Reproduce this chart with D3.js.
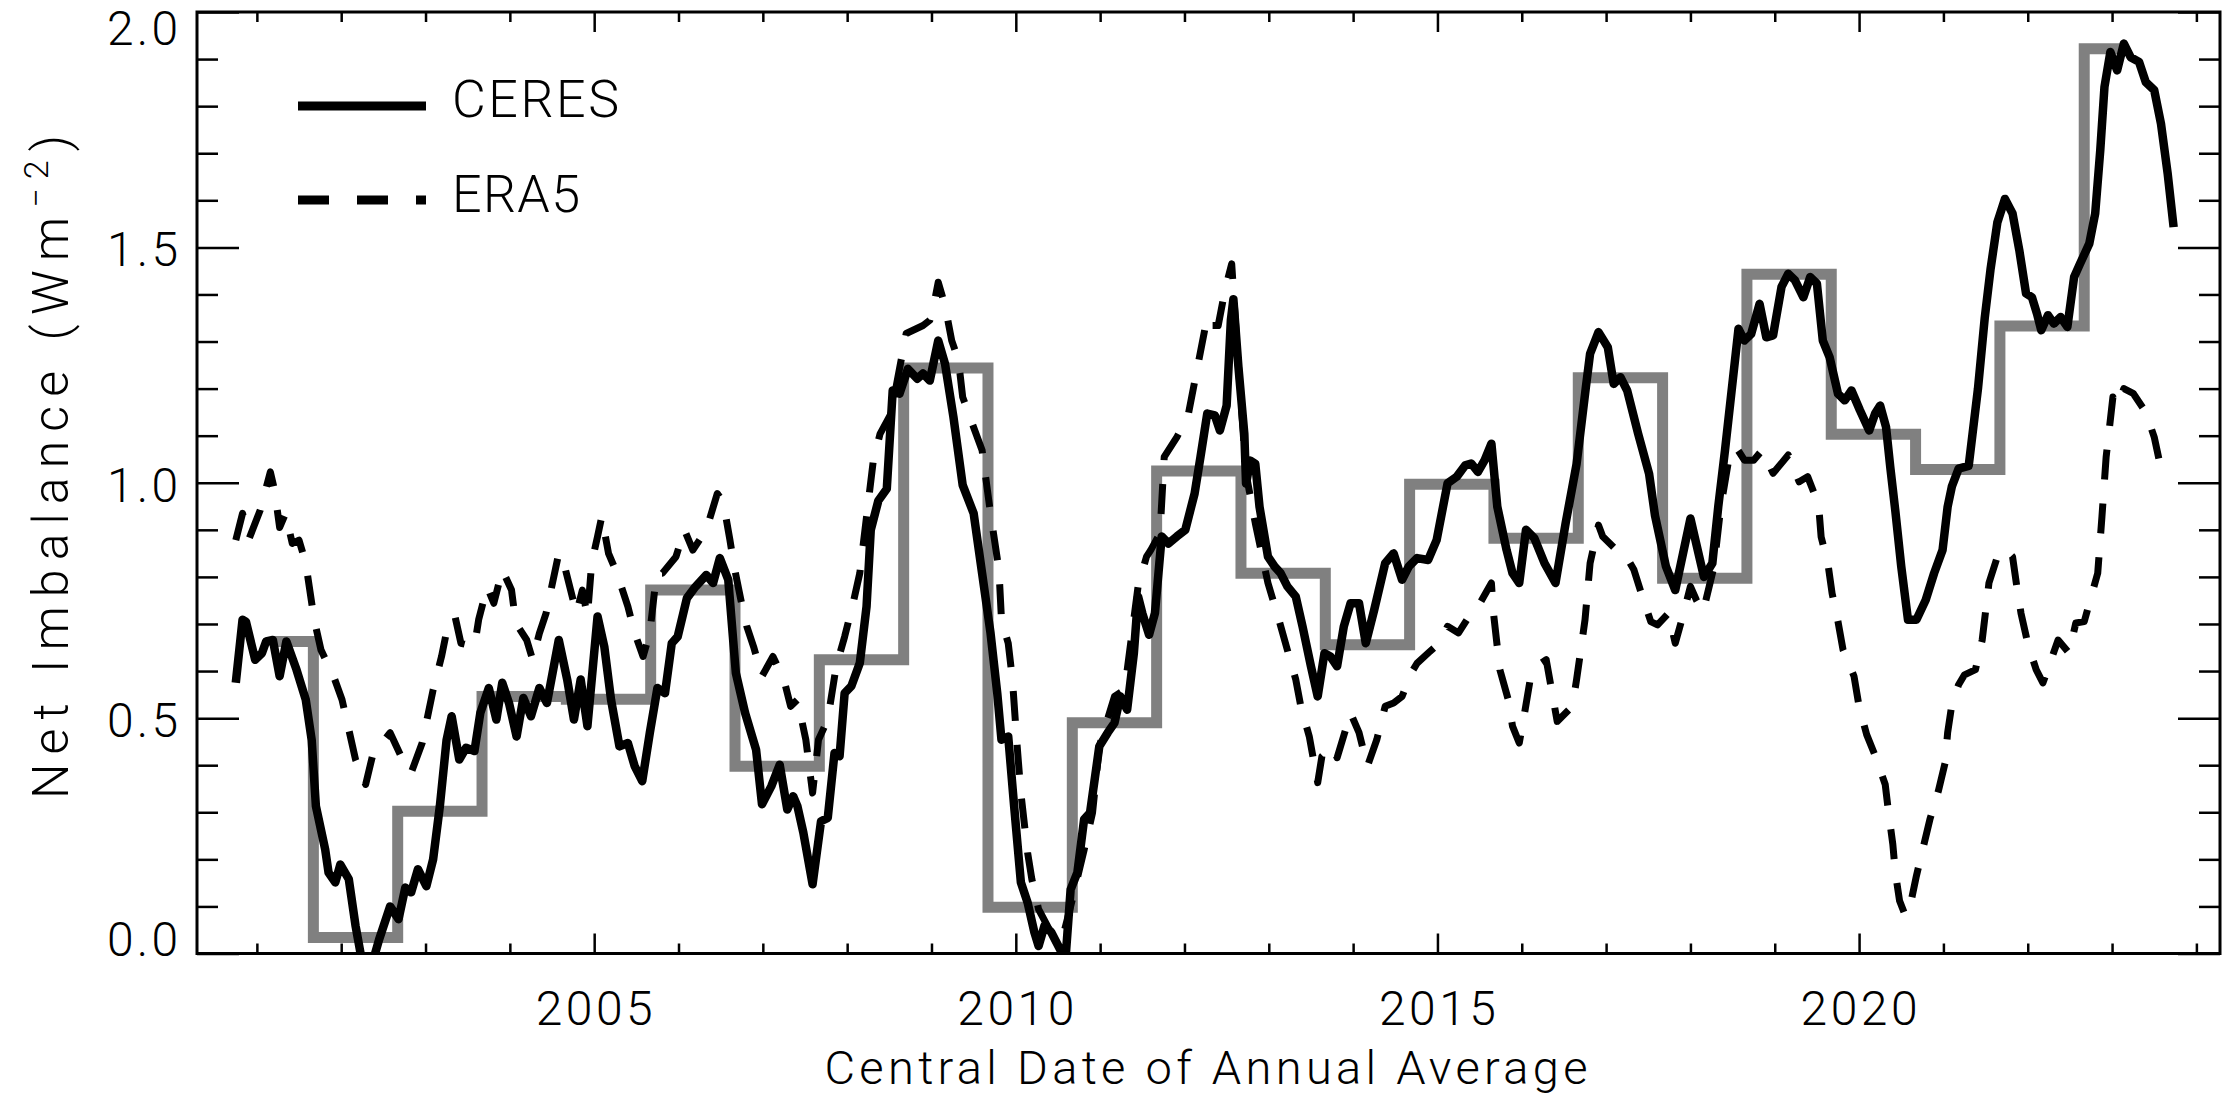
<!DOCTYPE html>
<html><head><meta charset="utf-8">
<script src="https://cdn.jsdelivr.net/npm/d3@7"></script>
<style>html,body{margin:0;padding:0;background:#fff;} svg{display:block;}</style>
</head><body>
<svg id="chart" width="2229" height="1103"></svg>
<script>
// ---------------- DATA ----------------
const ceres = [
[2000.75,0.575],[2000.83,0.709],[2000.87,0.705],[2000.98,0.624],[2001.06,0.638],[2001.11,0.663],[2001.19,0.666],
[2001.27,0.589],[2001.35,0.663],[2001.47,0.603],[2001.58,0.539],[2001.65,0.454],[2001.70,0.313],[2001.81,0.221],
[2001.85,0.172],[2001.93,0.151],[2001.99,0.189],[2002.09,0.158],[2002.17,0.059],[2002.24,-0.01],[2002.37,-0.02],
[2002.45,0.03],[2002.58,0.10],[2002.68,0.073],[2002.76,0.14],[2002.83,0.13],[2002.91,0.179],[2003.01,0.143],
[2003.09,0.20],[2003.17,0.313],[2003.25,0.454],[2003.31,0.504],[2003.40,0.412],[2003.48,0.437],[2003.58,0.43],
[2003.65,0.511],[2003.75,0.564],[2003.84,0.497],[2003.91,0.575],[2003.99,0.532],[2004.08,0.461],[2004.16,0.543],
[2004.25,0.504],[2004.35,0.564],[2004.44,0.532],[2004.58,0.666],[2004.68,0.582],[2004.76,0.497],[2004.84,0.582],
[2004.92,0.483],[2005.04,0.716],[2005.12,0.652],[2005.20,0.539],[2005.30,0.44],[2005.40,0.447],[2005.48,0.398],
[2005.57,0.366],[2005.66,0.469],[2005.75,0.564],[2005.84,0.553],[2005.92,0.659],[2005.99,0.673],[2006.10,0.755],
[2006.20,0.779],[2006.33,0.804],[2006.41,0.787],[2006.49,0.84],[2006.59,0.794],[2006.68,0.596],[2006.79,0.511],
[2006.92,0.433],[2006.99,0.317],[2007.10,0.355],[2007.20,0.401],[2007.29,0.306],[2007.36,0.334],[2007.41,0.313],
[2007.48,0.257],[2007.59,0.147],[2007.69,0.281],[2007.77,0.288],[2007.85,0.426],[2007.91,0.419],[2007.97,0.553],
[2008.05,0.568],[2008.15,0.617],[2008.23,0.737],[2008.28,0.90],[2008.37,0.962],[2008.47,0.987],[2008.54,1.196],
[2008.62,1.189],[2008.72,1.242],[2008.83,1.221],[2008.90,1.232],[2008.98,1.217],[2009.08,1.302],[2009.16,1.253],
[2009.26,1.14],[2009.37,0.995],[2009.50,0.935],[2009.60,0.808],[2009.70,0.681],[2009.78,0.553],[2009.83,0.454],
[2009.91,0.461],[2009.98,0.313],[2010.06,0.151],[2010.14,0.108],[2010.22,0.045],[2010.27,0.016],[2010.34,0.059],
[2010.42,0.045],[2010.55,0.0],[2010.59,-0.01],[2010.65,0.136],[2010.73,0.172],[2010.81,0.285],[2010.88,0.299],
[2010.99,0.44],[2011.09,0.469],[2011.17,0.49],[2011.24,0.546],[2011.32,0.518],[2011.40,0.638],[2011.45,0.758],
[2011.50,0.723],[2011.58,0.677],[2011.65,0.723],[2011.73,0.886],[2011.81,0.871],[2011.91,0.886],[2012.01,0.90],
[2012.12,0.977],[2012.19,1.055],[2012.27,1.147],[2012.36,1.143],[2012.42,1.111],[2012.50,1.164],[2012.55,1.345],
[2012.58,1.39],[2012.64,1.246],[2012.71,1.104],[2012.73,0.998],[2012.78,1.047],[2012.84,1.04],[2012.89,0.949],
[2012.99,0.843],[2013.07,0.822],[2013.14,0.808],[2013.22,0.78],[2013.32,0.758],[2013.40,0.695],[2013.50,0.61],
[2013.58,0.546],[2013.66,0.638],[2013.73,0.631],[2013.81,0.61],[2013.89,0.695],[2013.97,0.744],[2014.07,0.744],
[2014.15,0.659],[2014.25,0.73],[2014.38,0.829],[2014.48,0.85],[2014.58,0.794],[2014.66,0.822],[2014.76,0.84],
[2014.89,0.836],[2014.99,0.878],[2015.12,0.999],[2015.23,1.013],[2015.33,1.037],[2015.40,1.041],[2015.48,1.023],
[2015.56,1.048],[2015.64,1.083],[2015.71,0.949],[2015.82,0.857],[2015.89,0.808],[2015.97,0.787],[2016.05,0.90],
[2016.15,0.882],[2016.27,0.829],[2016.40,0.787],[2016.52,0.914],[2016.65,1.04],[2016.76,1.203],[2016.81,1.274],
[2016.91,1.32],[2017.02,1.288],[2017.09,1.21],[2017.17,1.224],[2017.25,1.196],[2017.38,1.104],[2017.51,1.019],
[2017.58,0.93],[2017.71,0.822],[2017.82,0.772],[2018.00,0.924],[2018.16,0.80],[2018.26,0.829],[2018.33,0.949],
[2018.41,1.069],[2018.57,1.327],[2018.64,1.302],[2018.72,1.316],[2018.82,1.38],[2018.90,1.309],[2018.98,1.313],
[2019.08,1.416],[2019.16,1.444],[2019.24,1.43],[2019.34,1.394],[2019.42,1.437],[2019.50,1.423],[2019.57,1.302],
[2019.65,1.267],[2019.75,1.189],[2019.83,1.175],[2019.91,1.196],[2020.01,1.154],[2020.12,1.111],[2020.19,1.147],
[2020.25,1.164],[2020.32,1.118],[2020.37,1.033],[2020.43,0.94],[2020.50,0.822],[2020.58,0.709],[2020.68,0.709],
[2020.79,0.751],[2020.89,0.808],[2020.99,0.857],[2021.05,0.949],[2021.10,0.992],[2021.18,1.03],[2021.30,1.036],
[2021.41,1.20],[2021.49,1.35],[2021.56,1.455],[2021.64,1.553],[2021.73,1.603],[2021.82,1.572],[2021.90,1.494],
[2021.98,1.402],[2022.05,1.394],[2022.11,1.359],[2022.16,1.324],[2022.24,1.356],[2022.31,1.338],[2022.39,1.352],
[2022.47,1.331],[2022.55,1.437],[2022.62,1.465],[2022.73,1.508],[2022.80,1.572],[2022.86,1.706],[2022.91,1.841],
[2022.98,1.915],[2023.06,1.876],[2023.14,1.933],[2023.22,1.904],[2023.32,1.894],[2023.40,1.851],[2023.50,1.834],
[2023.58,1.763],[2023.66,1.656],[2023.73,1.543]
];

const era5 = [
[2000.75,0.878],[2000.83,0.935],[2000.91,0.882],[2001.04,0.942],[2001.16,1.023],[2001.21,0.984],[2001.27,0.905],
[2001.34,0.935],[2001.42,0.871],[2001.50,0.878],[2001.58,0.829],[2001.68,0.709],[2001.76,0.645],[2001.91,0.589],
[2002.01,0.539],[2002.09,0.476],[2002.17,0.412],[2002.29,0.359],[2002.37,0.419],[2002.45,0.44],[2002.58,0.469],
[2002.71,0.419],[2002.83,0.384],[2002.96,0.447],[2003.09,0.56],[2003.19,0.631],[2003.25,0.684],[2003.35,0.716],
[2003.42,0.659],[2003.58,0.652],[2003.63,0.709],[2003.73,0.779],[2003.81,0.744],[2003.91,0.815],[2004.02,0.772],
[2004.07,0.702],[2004.20,0.666],[2004.27,0.624],[2004.35,0.68],[2004.43,0.723],[2004.58,0.85],[2004.66,0.815],
[2004.74,0.758],[2004.79,0.723],[2004.86,0.772],[2004.92,0.716],[2004.97,0.829],[2005.04,0.886],[2005.09,0.928],
[2005.17,0.85],[2005.27,0.808],[2005.40,0.737],[2005.48,0.681],[2005.58,0.631],[2005.66,0.681],[2005.74,0.808],
[2005.81,0.808],[2005.97,0.843],[2006.07,0.9],[2006.17,0.857],[2006.33,0.9],[2006.46,0.977],[2006.53,0.96],
[2006.61,0.878],[2006.66,0.822],[2006.74,0.751],[2006.81,0.695],[2006.89,0.652],[2006.99,0.589],[2007.12,0.631],
[2007.25,0.582],[2007.33,0.525],[2007.41,0.539],[2007.51,0.454],[2007.59,0.341],[2007.66,0.454],[2007.77,0.497],
[2007.87,0.61],[2007.97,0.673],[2008.07,0.744],[2008.15,0.808],[2008.23,0.928],[2008.31,1.047],[2008.39,1.104],
[2008.52,1.147],[2008.70,1.317],[2008.90,1.334],[2008.98,1.345],[2009.03,1.38],[2009.08,1.426],[2009.16,1.377],
[2009.24,1.302],[2009.32,1.26],[2009.37,1.182],[2009.47,1.132],[2009.60,1.069],[2009.70,0.935],[2009.80,0.815],
[2009.83,0.709],[2009.91,0.659],[2009.96,0.582],[2010.01,0.454],[2010.06,0.341],[2010.14,0.214],[2010.19,0.158],
[2010.27,0.094],[2010.40,0.05],[2010.55,0.03],[2010.65,0.10],[2010.73,0.16],[2010.81,0.22],[2010.91,0.299],
[2010.99,0.44],[2011.17,0.546],[2011.29,0.56],[2011.45,0.78],[2011.55,0.843],[2011.60,0.857],[2011.71,0.893],
[2011.76,1.055],[2011.91,1.097],[2012.04,1.14],[2012.17,1.26],[2012.27,1.352],[2012.32,1.334],[2012.40,1.334],
[2012.48,1.409],[2012.56,1.465],[2012.62,1.30],[2012.73,1.02],[2012.84,0.914],[2012.99,0.787],[2013.12,0.709],
[2013.22,0.645],[2013.32,0.582],[2013.38,0.525],[2013.48,0.461],[2013.58,0.363],[2013.63,0.419],[2013.76,0.44],
[2013.81,0.416],[2013.97,0.511],[2014.07,0.469],[2014.17,0.398],[2014.28,0.454],[2014.38,0.525],[2014.48,0.532],
[2014.58,0.546],[2014.69,0.596],[2014.76,0.617],[2014.90,0.64],[2015.02,0.659],[2015.12,0.695],[2015.25,0.681],
[2015.35,0.709],[2015.46,0.73],[2015.64,0.787],[2015.66,0.73],[2015.74,0.603],[2015.84,0.539],[2015.89,0.483],
[2015.97,0.447],[2016.02,0.497],[2016.10,0.582],[2016.17,0.61],[2016.29,0.624],[2016.42,0.493],[2016.60,0.525],
[2016.65,0.582],[2016.70,0.645],[2016.75,0.709],[2016.81,0.829],[2016.91,0.91],[2016.96,0.886],[2017.14,0.854],
[2017.22,0.85],[2017.33,0.815],[2017.43,0.758],[2017.53,0.705],[2017.61,0.698],[2017.74,0.723],[2017.82,0.659],
[2017.92,0.723],[2018.00,0.78],[2018.07,0.751],[2018.15,0.726],[2018.28,0.822],[2018.36,0.949],[2018.46,1.055],
[2018.54,1.076],[2018.64,1.048],[2018.75,1.048],[2018.85,1.069],[2018.98,1.02],[2019.16,1.059],[2019.29,1.002],
[2019.39,1.013],[2019.52,0.953],[2019.55,0.885],[2019.63,0.829],[2019.68,0.765],[2019.75,0.705],[2019.81,0.645],
[2019.94,0.589],[2020.00,0.525],[2020.09,0.465],[2020.20,0.416],[2020.31,0.359],[2020.35,0.299],[2020.40,0.232],
[2020.43,0.172],[2020.48,0.112],[2020.55,0.08],[2020.61,0.105],[2020.68,0.165],[2020.76,0.225],[2020.84,0.285],
[2020.94,0.345],[2021.02,0.405],[2021.05,0.469],[2021.10,0.529],[2021.18,0.571],[2021.25,0.592],[2021.38,0.603],
[2021.46,0.666],[2021.54,0.787],[2021.64,0.843],[2021.73,0.86],[2021.82,0.843],[2021.87,0.78],[2021.92,0.723],
[2022.00,0.659],[2022.10,0.603],[2022.18,0.575],[2022.36,0.666],[2022.44,0.649],[2022.49,0.638],[2022.57,0.702],
[2022.67,0.705],[2022.73,0.744],[2022.83,0.808],[2022.88,0.928],[2022.93,1.055],[2023.01,1.182],[2023.06,1.164],
[2023.14,1.2],[2023.25,1.19],[2023.40,1.15],[2023.50,1.097],[2023.58,1.03]
];

const annualYears = [2001.17,2002.17,2003.17,2004.17,2005.17,2006.17,2007.17,2008.17,2009.17,2010.17,2011.17,2012.17,
  2013.17,2014.17,2015.17,2016.17,2017.17,2018.17,2019.17,2020.17,2021.17,2022.17,2023.17];
const annualValues = [0.663,0.034,0.302,0.546,0.54,0.772,0.398,0.624,1.244,0.098,0.49,1.025,
  0.808,0.656,0.997,0.882,1.223,0.797,1.443,1.103,1.028,1.333,1.922];

const xMajorTicks = [2005,2010,2015,2020];
const xTickLabels = ["2005","2010","2015","2020"];
const xMinorTicks = [2001,2002,2003,2004,2006,2007,2008,2009,2011,2012,2013,2014,2016,2017,2018,2019,2021,2022,2023,2024];
const yMajorTicks = [0,0.5,1.0,1.5,2.0];
const yTickLabels = ["0.0","0.5","1.0","1.5","2.0"];
const yMinorTicks = [0.1,0.2,0.3,0.4,0.6,0.7,0.8,0.9,1.1,1.2,1.3,1.4,1.6,1.7,1.8,1.9];
const seriesNames = ["CERES","ERA5"];

// ---------------- LAYOUT ----------------
const L = 197, R = 2220, T = 12, B = 953.5;
const FONT = "Roboto, 'Liberation Sans', Arial, sans-serif";
const svg = d3.select("#chart");
svg.append("rect").attr("width",2229).attr("height",1103).attr("fill","#fff");

const x = d3.scaleLinear().domain([2000.29, 2024.28]).range([L, R]);
const y = d3.scaleLinear().domain([0, 2.0]).range([B, T]);

svg.append("clipPath").attr("id","clip").append("rect")
  .attr("x",L).attr("y",T).attr("width",R-L).attr("height",B-T);

const plot = svg.append("g").attr("clip-path","url(#clip)");

// annual step (gray)
plot.append("path")
  .datum(annualYears.map((d,i)=>[d, annualValues[i]]))
  .attr("fill","none").attr("stroke","#808080").attr("stroke-width",11)
  .attr("stroke-linejoin","miter")
  .attr("d", d3.line().x(d=>x(d[0])).y(d=>y(d[1])).curve(d3.curveStep));

// ERA5 dashed
plot.append("path").datum(era5)
  .attr("fill","none").attr("stroke","#000").attr("stroke-width",7)
  .attr("stroke-dasharray","30,24").attr("stroke-linejoin","round")
  .attr("d", d3.line().x(d=>x(d[0])).y(d=>y(d[1])));

// CERES solid
plot.append("path").datum(ceres)
  .attr("fill","none").attr("stroke","#000").attr("stroke-width",8.5)
  .attr("stroke-linejoin","round")
  .attr("d", d3.line().x(d=>x(d[0])).y(d=>y(d[1])));

// ---------------- AXES ----------------
function styleAxis(g){
  g.select(".domain").remove();
  g.selectAll(".tick line").attr("stroke","#000").attr("stroke-width",2.5);
  g.selectAll(".tick text").remove();
}
svg.append("g").attr("transform",`translate(0,${B})`).call(d3.axisBottom(x).tickValues(xMinorTicks).tickSize(-10)).call(styleAxis);
svg.append("g").attr("transform",`translate(0,${B})`).call(d3.axisBottom(x).tickValues(xMajorTicks).tickSize(-20)).call(styleAxis);
svg.append("g").attr("transform",`translate(0,${T})`).call(d3.axisTop(x).tickValues(xMinorTicks).tickSize(-10)).call(styleAxis);
svg.append("g").attr("transform",`translate(0,${T})`).call(d3.axisTop(x).tickValues(xMajorTicks).tickSize(-20)).call(styleAxis);
svg.append("g").attr("transform",`translate(${L},0)`).call(d3.axisLeft(y).tickValues(yMinorTicks).tickSize(-21)).call(styleAxis);
svg.append("g").attr("transform",`translate(${L},0)`).call(d3.axisLeft(y).tickValues(yMajorTicks).tickSize(-42)).call(styleAxis);
svg.append("g").attr("transform",`translate(${R},0)`).call(d3.axisRight(y).tickValues(yMinorTicks).tickSize(-21)).call(styleAxis);
svg.append("g").attr("transform",`translate(${R},0)`).call(d3.axisRight(y).tickValues(yMajorTicks).tickSize(-42)).call(styleAxis);

svg.append("rect").attr("x",L).attr("y",T).attr("width",R-L).attr("height",B-T)
  .attr("fill","none").attr("stroke","#000").attr("stroke-width",3);

// tick labels
svg.append("g").selectAll("text").data(xMajorTicks).join("text")
  .attr("x",d=>x(d)).attr("y",1025).attr("text-anchor","middle")
  .attr("font-family",FONT).attr("font-weight",300).attr("font-size",48)
  .attr("textLength",117).attr("lengthAdjust","spacing")
  .text((d,i)=>xTickLabels[i]);

svg.append("g").selectAll("text").data(yMajorTicks).join("text")
  .attr("x",178).attr("y",d=> y(d) + (d===2 ? 33 : d===0 ? 2 : 19)).attr("text-anchor","end")
  .attr("font-family",FONT).attr("font-weight",300).attr("font-size",48)
  .attr("textLength",71).attr("lengthAdjust","spacing")
  .text((d,i)=>yTickLabels[i]);

// axis titles
svg.append("text").attr("x",1206).attr("y",1084).attr("text-anchor","middle")
  .attr("font-family",FONT).attr("font-weight",300).attr("font-size",47)
  .attr("textLength",763).attr("lengthAdjust","spacing")
  .text("Central Date of Annual Average");

const yl = svg.append("text").attr("transform",`translate(68,467) rotate(-90)`)
  .attr("text-anchor","middle").attr("font-family",FONT).attr("font-weight",300).attr("font-size",50)
  .attr("textLength",664).attr("lengthAdjust","spacing");
yl.append("tspan").text("Net Imbalance (Wm");
yl.append("tspan").attr("font-size",34).attr("dy",-20).text("\u22122");
yl.append("tspan").attr("dy",20).text(")");

// legend
const lg = svg.append("g");
lg.append("line").attr("x1",298).attr("x2",426).attr("y1",106).attr("y2",106)
  .attr("stroke","#000").attr("stroke-width",9);
lg.append("line").attr("x1",298).attr("x2",426).attr("y1",200).attr("y2",200)
  .attr("stroke","#000").attr("stroke-width",9).attr("stroke-dasharray","31,28");
lg.append("text").attr("x",452).attr("y",117).attr("font-family",FONT).attr("font-weight",300)
  .attr("font-size",52).attr("textLength",167).attr("lengthAdjust","spacing").text(seriesNames[0]);
lg.append("text").attr("x",452).attr("y",212).attr("font-family",FONT).attr("font-weight",300)
  .attr("font-size",52).attr("textLength",128).attr("lengthAdjust","spacing").text(seriesNames[1]);
</script>
</body></html>
